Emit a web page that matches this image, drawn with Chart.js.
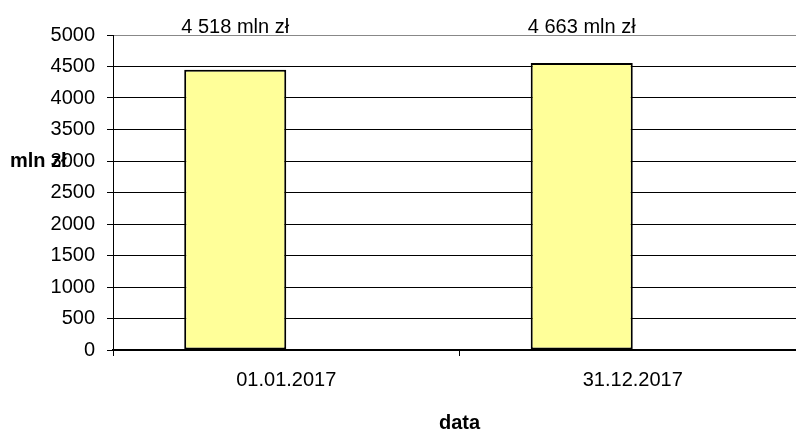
<!DOCTYPE html>
<html lang="pl">
<head>
    <meta charset="UTF-8">
    <title>mln zł</title>
    <style>
        body {
            margin: 0;
            padding: 0;
            background: #fff;
            overflow: hidden;
        }

        .chart-box {
            width: 806px;
            height: 430px;
        }
    </style>
</head>
<body>
    <div class="chart-box">
        <canvas id="chart" width="806" height="430"></canvas>
    </div>

    <script src="https://cdn.jsdelivr.net/npm/chart.js"></script>
    <script>
        const categories = ['01.01.2017', '31.12.2017'];
        const values = [4450, 4555];
        // the source sheet had a second, empty series next to the bars
        const emptySeries = [null, null];
        const valueLabels = ['4 518 mln zł', '4 663 mln zł'];
        const yTicks = [0, 500, 1000, 1500, 2000, 2500, 3000, 3500, 4000, 4500, 5000];

        const FONT = 'Arial, "Liberation Sans", sans-serif';

        // texts that sit outside the axes
        const extraText = {
            id: 'extraText',
            afterDraw(chart) {
                const ctx = chart.ctx;
                const area = chart.chartArea;
                const yScale = chart.scales.y;
                const bars = chart.getDatasetMeta(0).data;
                ctx.save();
                ctx.fillStyle = '#000';

                ctx.font = '20px ' + FONT;
                ctx.textAlign = 'center';
                ctx.textBaseline = 'middle';
                bars.forEach((bar, i) => {
                    ctx.fillText(valueLabels[i], bar.x, 27);
                });

                ctx.font = 'bold 20px ' + FONT;
                ctx.textAlign = 'left';
                ctx.fillText('mln zł', 10, yScale.getPixelForValue(3000));

                ctx.textAlign = 'center';
                ctx.textBaseline = 'alphabetic';
                ctx.fillText('data', (area.left + area.right) / 2, 429);
                ctx.restore();
            }
        };

        const ctx = document.getElementById('chart').getContext('2d');
        new Chart(ctx, {
            type: 'bar',
            data: {
                labels: categories,
                datasets: [{
                    data: values,
                    backgroundColor: '#FFFF99',
                    borderColor: '#000',
                    borderWidth: 2,
                    borderSkipped: false,
                    barPercentage: 1,
                    categoryPercentage: 0.589
                }, {
                    data: emptySeries,
                    backgroundColor: '#9999FF',
                    barPercentage: 1,
                    categoryPercentage: 0.589
                }]
            },
            options: {
                responsive: false,
                animation: false,
                layout: { padding: { top: 35, right: 0, bottom: 0, left: 0 } },
                plugins: {
                    legend: { display: false },
                    tooltip: { enabled: false }
                },
                scales: {
                    x: {
                        offset: true,
                        afterFit(scale) { scale.height = 80; },
                        border: { display: true, color: '#000', width: 2 },
                        grid: {
                            offset: true,
                            drawOnChartArea: false,
                            drawTicks: true,
                            tickLength: 6,
                            tickColor: '#000'
                        },
                        ticks: {
                            color: '#000',
                            padding: 12,
                            font: { family: FONT, size: 20 }
                        }
                    },
                    y: {
                        min: 0,
                        max: 5000,
                        afterFit(scale) { scale.width = 113; },
                        afterBuildTicks(scale) {
                            scale.ticks = yTicks.map(v => ({ value: v }));
                        },
                        border: { display: true, color: '#000', width: 1 },
                        grid: {
                            color: c => (c.tick && c.tick.value === 5000 ? '#888' : '#000'),
                            lineWidth: 1,
                            drawTicks: true,
                            tickLength: 6,
                            tickColor: '#000'
                        },
                        ticks: {
                            color: '#000',
                            padding: 12,
                            font: { family: FONT, size: 20 },
                            callback: v => String(v)
                        }
                    }
                }
            },
            plugins: [extraText]
        });
    </script>
</body>
</html>
